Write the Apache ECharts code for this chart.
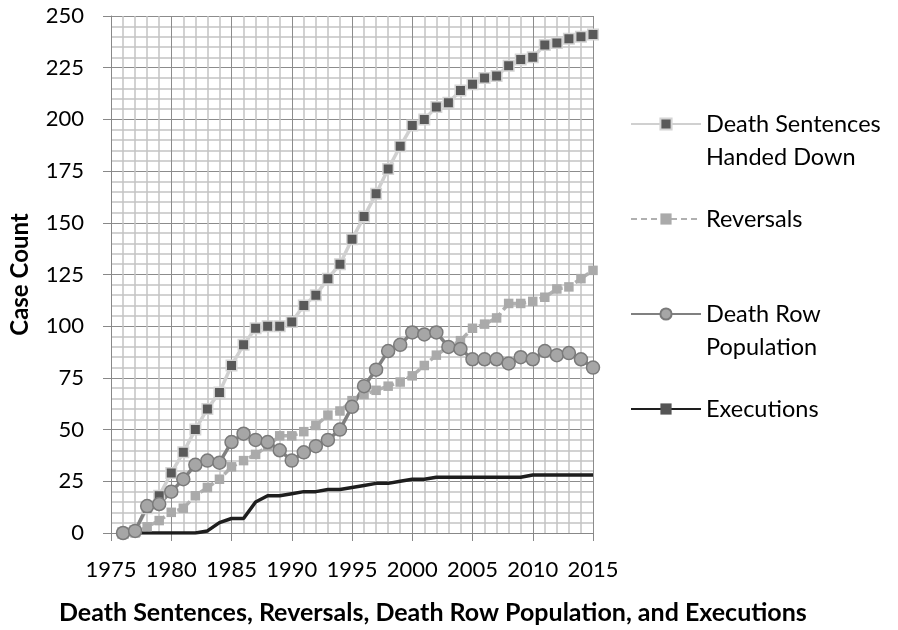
<!DOCTYPE html>
<html>
<head>
<meta charset="utf-8">
<script src="https://cdn.jsdelivr.net/npm/echarts@6/dist/echarts.min.js"></script>
<style>html,body{margin:0;padding:0;background:#fff;}#c{width:898px;height:630px;}</style>
</head>
<body>
<div id="c"></div>
<script>
var years = [1976,1977,1978,1979,1980,1981,1982,1983,1984,1985,1986,1987,1988,1989,1990,1991,1992,1993,1994,1995,1996,1997,1998,1999,2000,2001,2002,2003,2004,2005,2006,2007,2008,2009,2010,2011,2012,2013,2014,2015];
var deathSentences = [0,1,12,18,29,39,50,60,68,81,91,99,100,100,102,110,115,123,130,142,153,164,176,187,197,200,206,208,214,217,220,221,226,229,230,236,237,239,240,241];
var reversals = [0,0,3,6,10,12,18,22,26,32,35,38,42,47,47,49,52,57,59,64,67,69,71,73,76,81,86,90,93,99,101,104,111,111,112,114,118,119,123,127];
var deathRow = [0,1,13,14,20,26,33,35,34,44,48,45,44,40,35,39,42,45,50,61,71,79,88,91,97,96,97,90,89,84,84,84,82,85,84,88,86,87,84,80];
var executions = [0,0,0,0,0,0,0,1,5,7,7,15,18,18,19,20,20,21,21,22,23,24,24,25,26,26,27,27,27,27,27,27,27,27,28,28,28,28,28,28];
var seriesNames = ['Death Sentences\nHanded Down','Reversals','Death Row\nPopulation','Executions'];
var xTicks = [1975,1980,1985,1990,1995,2000,2005,2010,2015];
var yTicks = [0,25,50,75,100,125,150,175,200,225,250];
var titleText = 'Death Sentences, Reversals, Death Row Population, and Executions';
var yName = 'Case Count';

function pairs(arr){ return years.map(function(y,i){ return [y, arr[i]]; }); }

var FONT = 'Lato';
var chart = echarts.init(document.getElementById('c'), null, {renderer:'canvas'});

function legendAt(name, top){
  return {
    data:[name], orient:'vertical', left:630, top:top, padding:0,
    itemWidth:70, itemHeight:14, itemGap:0,
    formatter:function(n){ return n.indexOf('\n')>=0 ? '\n'+n : n; },
    textStyle:{fontFamily:FONT, fontSize:23.5, color:'#000', lineHeight:33},
    selectedMode:false
  };
}

chart.setOption({
  animation:false,
  backgroundColor:'#fff',
  title:{text:titleText, left:54, top:595,
    textStyle:{fontFamily:FONT, fontSize:25, fontWeight:'bold', color:'#000'}},
  legend:[
    legendAt(seriesNames[0], 74.5),
    legendAt(seriesNames[1], 202.5),
    legendAt(seriesNames[2], 264.5),
    legendAt(seriesNames[3], 392.5)
  ],
  grid:{left:103, right:305, top:16, bottom:97, containLabel:false},
  xAxis:{
    type:'value', min:xTicks[0], max:xTicks[xTicks.length-1], interval:5,
    axisLine:{show:true, lineStyle:{color:'#888', width:1}},
    axisTick:{show:true, length:8, lineStyle:{color:'#888'}},
    axisLabel:{fontFamily:FONT, fontSize:22, color:'#000', margin:26,
      formatter:function(v){ return xTicks.indexOf(v)>=0 ? String(v) : ''; }},
    splitLine:{show:true, lineStyle:{color:'#8c8c8c', width:1}},
    minorTick:{show:false, splitNumber:5},
    minorSplitLine:{show:true, lineStyle:{color:'#c4c4c4', width:1.5}}
  },
  yAxis:{
    type:'value', min:yTicks[0], max:yTicks[yTicks.length-1], interval:25,
    name:yName, nameLocation:'middle', nameGap:79,
    nameTextStyle:{fontFamily:FONT, fontSize:24, fontWeight:'bold', color:'#000'},
    axisLine:{show:true, lineStyle:{color:'#888', width:1}},
    axisTick:{show:true, length:8, lineStyle:{color:'#888'}},
    axisLabel:{fontFamily:FONT, fontSize:22, color:'#000', margin:27},
    splitLine:{show:true, lineStyle:{color:'#8c8c8c', width:1}},
    minorTick:{show:false, splitNumber:5},
    minorSplitLine:{show:true, lineStyle:{color:'#c4c4c4', width:1.5}}
  },
  series:[
    {name:seriesNames[0], type:'line', data:pairs(deathSentences),
      symbol:'rect', symbolSize:10.5,
      lineStyle:{color:'#d0d0d0', width:3.5},
      itemStyle:{color:'#595959', borderColor:'#d4d4d4', borderWidth:1.5}},
    {name:seriesNames[1], type:'line', data:pairs(reversals),
      symbol:'rect', symbolSize:9.5,
      lineStyle:{color:'#b0b0b0', width:3.5, type:[6,4]},
      itemStyle:{color:'#aaaaaa', borderWidth:0}},
    {name:seriesNames[2], type:'line', data:pairs(deathRow),
      symbol:'circle', symbolSize:13,
      lineStyle:{color:'#808080', width:3.5},
      itemStyle:{color:'#a6a6a6', borderColor:'#7a7a7a', borderWidth:1.5}},
    {name:seriesNames[3], type:'line', data:pairs(executions),
      symbol:'rect', symbolSize:[11,4], showSymbol:false,
      lineStyle:{color:'#1e1e1e', width:3.5},
      itemStyle:{color:'#555555'}}
  ]
});
</script>
</body>
</html>
